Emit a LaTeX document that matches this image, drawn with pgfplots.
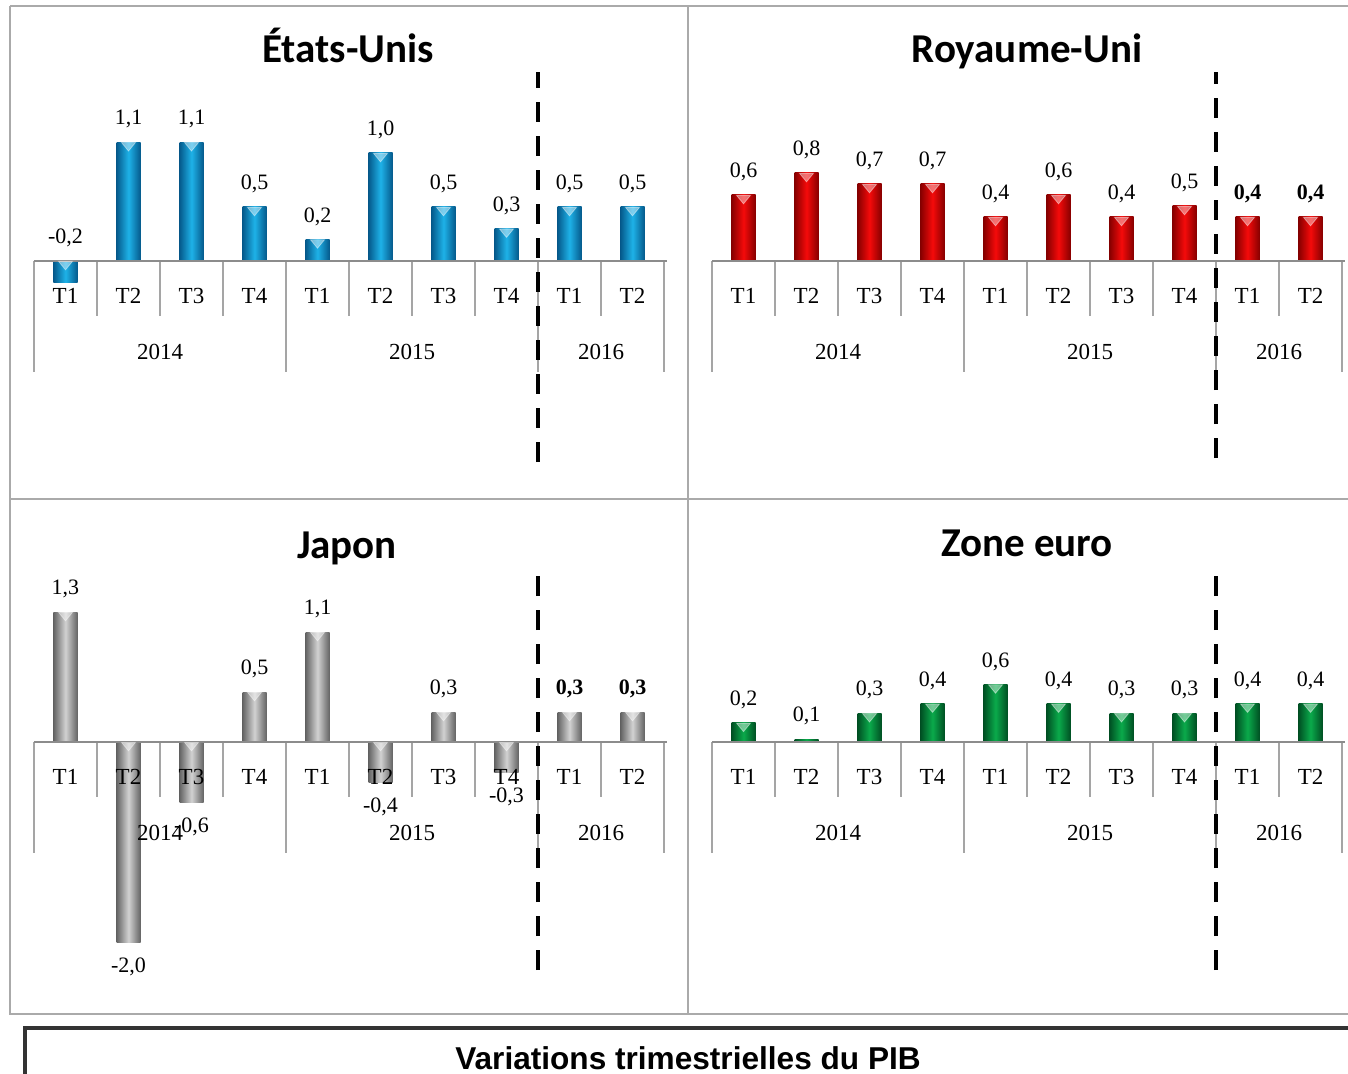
\documentclass[border=0pt]{standalone}
\usepackage{pgfplots}
\pgfplotsset{compat=1.18}
\usepackage{fontspec}
\setmainfont{Liberation Serif}
\newfontfamily\titlefont{Carlito}
\newfontfamily\arialfont{Liberation Sans}

\definecolor{blueD}{RGB}{5,90,140}
\definecolor{blueM}{RGB}{30,178,232}
\definecolor{redD}{RGB}{135,0,0}
\definecolor{redM}{RGB}{245,10,10}
\definecolor{grayD}{RGB}{100,100,100}
\definecolor{grayM}{RGB}{210,210,210}
\definecolor{greenD}{RGB}{0,80,35}
\definecolor{greenM}{RGB}{10,170,75}
\definecolor{sepcol}{RGB}{165,165,165}
\definecolor{framecol}{RGB}{170,170,170}

\newcommand{\valfont}{\fontsize{11}{13}\selectfont}
\newcommand{\tickfont}{\fontsize{11.5}{13}\selectfont}

\pgfplotsset{
  panel/.style={
    x=31.5pt, xmin=-0.5, xmax=9.5,
    axis lines=none, clip=false, anchor=origin,
    ybar, bar width=12pt, bar shift=0pt,
  },
  barlab/.style={nodes near coords, point meta=explicit symbolic,
    every node near coord/.append style={font=\valfont, inner sep=6.8pt, text=black, anchor=#1}},
  bevel/.style={draw=none, fill=none, mark=triangle*, mark size=4pt,
    mark options={yshift=-1.6pt, rotate=180, yscale=0.7, fill=white, draw=white, opacity=0.42}},
}

% positive bar, negative bar, small bar (no bevel)
\newcommand{\Bp}[4]{%
  \addplot[draw=none, left color=#1D, right color=#1D, middle color=#1M, barlab=south] coordinates {(#2,#3) [#4]};
  \addplot[bevel] coordinates {(#2,#3)};}
\newcommand{\Bn}[4]{%
  \addplot[draw=none, left color=#1D, right color=#1D, middle color=#1M, barlab=north,
     every node near coord/.append style={inner sep=7.5pt}] coordinates {(#2,#3) [#4]};
  \addplot[bevel] coordinates {(#2,0)};}
\newcommand{\Bs}[4]{%
  \addplot[draw=none, left color=#1D, right color=#1D, middle color=#1M, barlab=south] coordinates {(#2,#3) [#4]};}

% category separators, labels, zero line and dashed break
\newcommand{\catdecor}[2]{%
  \pgfplotsinvokeforeach{0.5,1.5,2.5,4.5,5.5,6.5,8.5}{\draw[sepcol, line width=0.6pt] (axis cs:##1,0) -- ++(0pt,-27.5pt);}
  \pgfplotsinvokeforeach{-0.5,3.5,7.5,9.5}{\draw[sepcol, line width=0.6pt] (axis cs:##1,0) -- ++(0pt,-55.5pt);}
  \draw[sepcol!85!black, line width=0.8pt] (axis cs:-0.5,0) -- (axis cs:9.55,0);
  \pgfplotsinvokeforeach{0,4}{%
    \node[font=\tickfont] at ([yshift=-17.5pt]axis cs:##1,0) {T1};
    \node[font=\tickfont] at ([yshift=-17.5pt]axis cs:##1+1,0) {T2};
    \node[font=\tickfont] at ([yshift=-17.5pt]axis cs:##1+2,0) {T3};
    \node[font=\tickfont] at ([yshift=-17.5pt]axis cs:##1+3,0) {T4};}
  \node[font=\tickfont] at ([yshift=-17.5pt]axis cs:8,0) {T1};
  \node[font=\tickfont] at ([yshift=-17.5pt]axis cs:9,0) {T2};
  \node[font=\tickfont] at ([yshift=-45.5pt]axis cs:1.5,0) {2014};
  \node[font=\tickfont] at ([yshift=-45.5pt]axis cs:5.5,0) {2015};
  \node[font=\tickfont] at ([yshift=-45.5pt]axis cs:8.5,0) {2016};
  \draw[black, line width=2.4pt, dash pattern=on 10pt off 7pt]
    ([yshift=-#2]axis cs:7.5,0) -- ([yshift=#1]axis cs:7.5,0);
}

\begin{document}
\begin{tikzpicture}
% frames
\draw[framecol, line width=1.2pt] (5pt,-3pt) -- (680pt,-3pt);
\draw[framecol, line width=1.2pt] (5pt,-3pt) -- (5pt,-507pt) -- (680pt,-507pt);
\draw[framecol, line width=1.2pt] (344pt,-3pt) -- (344pt,-507pt);
\draw[framecol, line width=1.2pt] (5pt,-249.5pt) -- (680pt,-249.5pt);
\draw[black!80, line width=1.6pt] (12.5pt,-545pt) -- (12.5pt,-514pt) -- (680pt,-514pt);

% titles
\node[font=\titlefont\bfseries\fontsize{20.5}{22}\selectfont, anchor=base] at (174pt,-31.5pt) {États-Unis};
\node[font=\titlefont\bfseries\fontsize{20.5}{22}\selectfont, anchor=base] at (513.5pt,-31.5pt) {Royaume-Uni};
\node[font=\titlefont\bfseries\fontsize{20.5}{22}\selectfont, anchor=base] at (173.5pt,-279pt) {Japon};
\node[font=\titlefont\bfseries\fontsize{20.5}{22}\selectfont, anchor=base] at (513.5pt,-278pt) {Zone euro};
\node[font=\arialfont\bfseries\fontsize{15.8}{17}\selectfont, anchor=base] at (344pt,-534.5pt) {Variations trimestrielles du PIB};

% États-Unis
\begin{axis}[panel, at={(32.75pt,-130.5pt)}, y=54pt, ymin=-0.3, ymax=1.3]
\Bn{blue}{0}{-0.2}{}
\Bp{blue}{1}{1.1}{1,1}
\Bp{blue}{2}{1.1}{1,1}
\Bp{blue}{3}{0.5}{0,5}
\Bp{blue}{4}{0.2}{0,2}
\Bp{blue}{5}{1.0}{1,0}
\Bp{blue}{6}{0.5}{0,5}
\Bp{blue}{7}{0.3}{0,3}
\Bp{blue}{8}{0.5}{0,5}
\Bp{blue}{9}{0.5}{0,5}
\node[font=\valfont, anchor=south, inner sep=6.8pt] at (axis cs:0,0) {-0,2};
\catdecor{94.5pt}{100.5pt}
\end{axis}

% Royaume-Uni
\begin{axis}[panel, at={(371.75pt,-130.5pt)}, y=55pt, ymin=-0.3, ymax=1.3]
\Bp{red}{0}{0.6}{0,6}
\Bp{red}{1}{0.8}{0,8}
\Bp{red}{2}{0.7}{0,7}
\Bp{red}{3}{0.7}{0,7}
\Bp{red}{4}{0.4}{0,4}
\Bp{red}{5}{0.6}{0,6}
\Bp{red}{6}{0.4}{0,4}
\Bp{red}{7}{0.5}{0,5}
\Bp{red}{8}{0.4}{\textbf{0,4}}
\Bp{red}{9}{0.4}{\textbf{0,4}}
\catdecor{94.5pt}{98.5pt}
\end{axis}

% Japon
\begin{axis}[panel, at={(32.75pt,-371pt)}, y=50pt, ymin=-2.1, ymax=1.4]
\Bp{gray}{0}{1.3}{1,3}
\Bn{gray}{1}{-2.0}{-2,0}
\Bn{gray}{2}{-0.6}{-0,6}
\Bp{gray}{3}{0.5}{0,5}
\Bp{gray}{4}{1.1}{1,1}
\Bn{gray}{5}{-0.4}{-0,4}
\Bp{gray}{6}{0.3}{0,3}
\Bn{gray}{7}{-0.3}{-0,3}
\Bp{gray}{8}{0.3}{\textbf{0,3}}
\Bp{gray}{9}{0.3}{\textbf{0,3}}
\catdecor{86.5pt}{114pt}
\end{axis}

% Zone euro
\begin{axis}[panel, at={(371.75pt,-371pt)}, y=48pt, ymin=-0.1, ymax=0.8]
\Bp{green}{0}{0.2}{0,2}
\Bs{green}{1}{0.03}{0,1}
\Bp{green}{2}{0.3}{0,3}
\Bp{green}{3}{0.4}{0,4}
\Bp{green}{4}{0.6}{0,6}
\Bp{green}{5}{0.4}{0,4}
\Bp{green}{6}{0.3}{0,3}
\Bp{green}{7}{0.3}{0,3}
\Bp{green}{8}{0.4}{0,4}
\Bp{green}{9}{0.4}{0,4}
\catdecor{86.5pt}{114pt}
\end{axis}

\pgfresetboundingbox
\useasboundingbox (0pt,0pt) rectangle (674pt,-537pt);
\end{tikzpicture}
\end{document}
